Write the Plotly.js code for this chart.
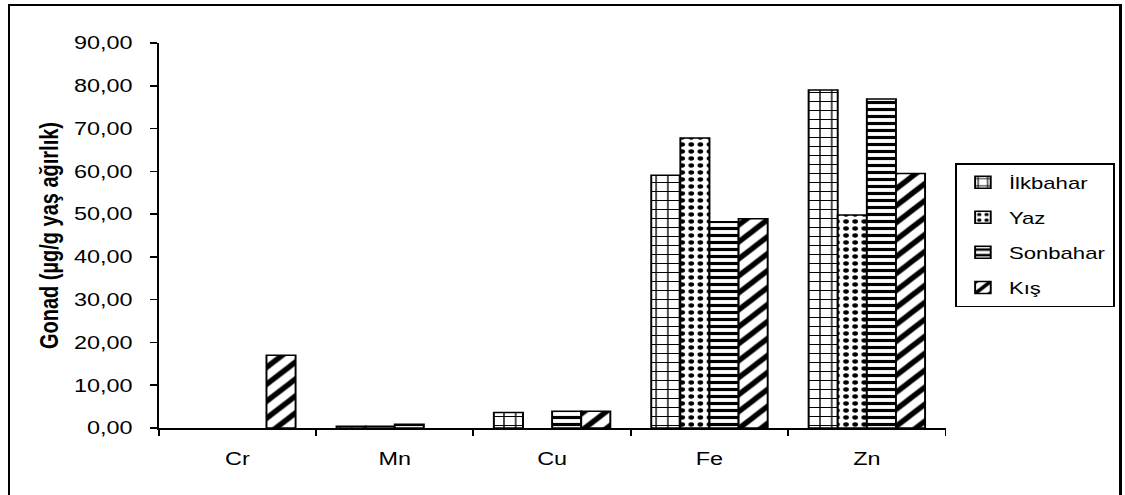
<!DOCTYPE html>
<html>
<head>
<meta charset="utf-8">
<script src="https://cdn.plot.ly/plotly-3.0.1.min.js"></script>
<style>
  html, body { margin: 0; padding: 0; background: #fff; overflow: hidden; }
  #stage { position: absolute; left: 0; top: 0; width: 1125px; height: 495px; overflow: hidden; }
  /* the chart is laid out narrower and widened to the full frame */
  #chart { position: absolute; left: 0; top: 0; width: 875px; height: 495px;
           transform: scaleX(1.30058); transform-origin: 0 0; }
  #frame { position: absolute; left: 8px; top: 4px; width: 1114px; height: 600px;
           box-sizing: border-box; border-left: 2px solid #000; border-top: 2px solid #000;
           border-right: 3px solid #000; pointer-events: none; }
</style>
</head>
<body>
<div id="stage">
  <div id="chart"></div>
  <div id="frame"></div>
</div>
<script>
// Metal concentrations in gonad tissue by season (null = no bar)
const elements = ['Cr', 'Mn', 'Cu', 'Fe', 'Zn'];
const seasons = ['İlkbahar', 'Yaz', 'Sonbahar', 'Kış'];

const ilkbahar = [null, 0.4, 3.6, 59.1, 79.0];
const yaz      = [null, 0.4, null, 67.8, 49.8];
const sonbahar = [null, 0.9, 3.9, 48.2, 76.9];
const kis      = [17.0, null, 3.9, 48.9, 59.5];

const seriesValues = [ilkbahar, yaz, sonbahar, kis];

// fill pattern per season
const patterns = [
  { shape: '+', size: 9, solidity: 0.22 },
  { shape: '.', size: 7, solidity: 0.3 },
  { shape: '-', size: 7, solidity: 0.45 },
  { shape: '/', size: 12, solidity: 0.4 }
];

const traces = seasons.map((name, i) => ({
  type: 'bar',
  name: name,
  x: elements,
  y: seriesValues[i],
  legendgroup: 'g' + i,
  marker: {
    color: '#ffffff',
    line: { color: '#000000', width: 1.5 },
    pattern: Object.assign({ fgcolor: '#000000', bgcolor: '#ffffff', fillmode: 'replace' }, patterns[i])
  },
  hoverinfo: 'skip'
}));

const font = 'Liberation Sans, Arial, sans-serif';

const layout = {
  width: 875,
  height: 495,
  margin: { l: 122, r: 148, t: 43, b: 67, autoexpand: false },
  paper_bgcolor: '#ffffff',
  plot_bgcolor: '#ffffff',
  separators: ', ',
  barmode: 'group',
  bargap: 0.26,
  bargroupgap: 0,
  font: { family: font, color: '#000000', size: 18 },
  xaxis: {
    type: 'category',
    showline: true, linecolor: '#000000', linewidth: 1.5,
    ticks: 'outside', tickson: 'boundaries', ticklen: 6, tickwidth: 1.5, tickcolor: '#000000',
    ticklabelstandoff: 14,
    tickfont: { family: font, size: 18, color: '#000000' },
    showgrid: false, zeroline: false, fixedrange: true
  },
  yaxis: {
    range: [0, 90], dtick: 10, tickformat: '.2f',
    showline: true, linecolor: '#000000', linewidth: 1.5,
    ticks: 'outside', ticklen: 5, tickwidth: 1.5, tickcolor: '#000000',
    ticklabelstandoff: 10,
    tickfont: { family: font, size: 18, color: '#000000' },
    showgrid: false, zeroline: false, fixedrange: true,
    title: { text: '<b>Gonad (µg/g yaş ağırlık)</b>', font: { family: font, size: 20, color: '#000000' }, standoff: 6 }
  },
  showlegend: true,
  legend: {
    x: 1.012, y: 0.688, xanchor: 'left', yanchor: 'top',
    bgcolor: '#ffffff', bordercolor: '#000000', borderwidth: 1.5,
    font: { family: font, size: 17, color: '#000000' },
    traceorder: 'grouped', tracegroupgap: 10, itemwidth: 30
  }
};

Plotly.newPlot('chart', traces, layout, { displayModeBar: false, staticPlot: true });
</script>
</body>
</html>
